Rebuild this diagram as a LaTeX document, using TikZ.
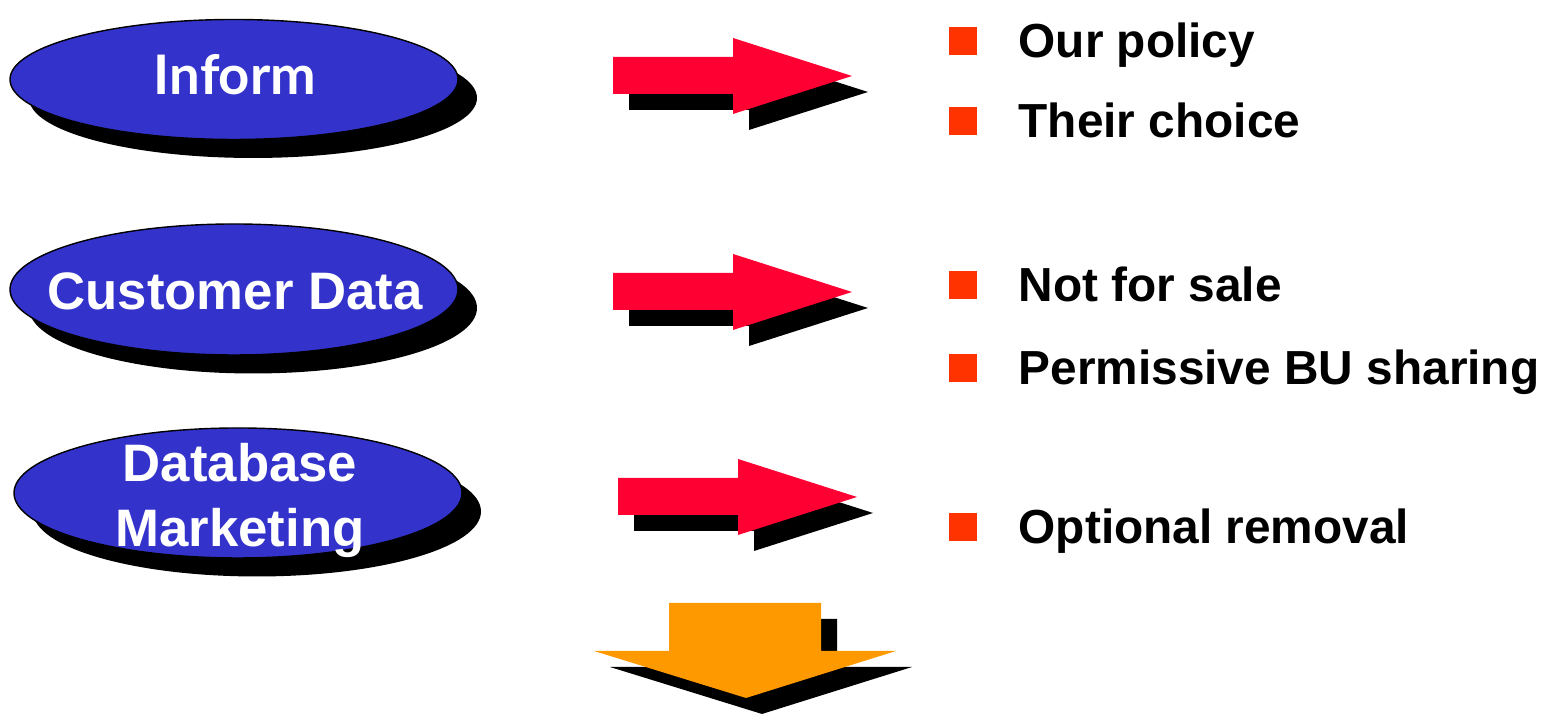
\documentclass[tikz,border=0pt]{standalone}
\usepackage{fontspec}
\setmainfont{Liberation Sans}
\newfontfamily\informfont{Lato}
\usetikzlibrary{shapes.geometric,shadows}
\definecolor{bubbleblue}{HTML}{3333CC}
\definecolor{arrowred}{HTML}{FF0033}
\definecolor{arroworange}{HTML}{FF9900}
\definecolor{bulletred}{HTML}{FF3300}

\begin{document}
\begin{tikzpicture}[
  bubble/.style={ellipse, draw=black, thin, fill=bubbleblue, inner sep=0pt,
                 minimum width=4.48cm,
                 drop shadow={shadow xshift=0.19cm, shadow yshift=-0.185cm,
                              fill=black, opacity=1}},
  bubbletext/.style={anchor=base, text=white, align=center, inner sep=0pt,
                     font=\fontsize{15}{18.5}\selectfont\bfseries},
  bullet/.style={fill=bulletred, minimum size=0.28cm, inner sep=0pt},
  item/.style={anchor=base west, inner sep=0pt,
               font=\fontsize{13.6}{16}\selectfont\bfseries}
]
\useasboundingbox (0,0) rectangle (15.46,7.14);

% draw the blue bubbles
\node[bubble, minimum height=1.2cm]  (inform)   at (2.34, 6.345) {};
\node[bubble, minimum height=1.31cm] (customer) at (2.34, 4.245) {};
\node[bubble, minimum height=1.3cm]  (database) at (2.38, 2.21)  {};

\node[bubbletext, font=\fontsize{15.5}{18}\selectfont\informfont\bfseries]
  (informtext) at (2.35, 6.19) {Inform};
\node[bubbletext] (customertext) at (2.35, 4.04) {Customer Data};
% the base anchor sits on the last line here
\node[bubbletext] (databasetext) at (2.40, 1.67) {Database\\Marketing};

% draw the red arrows
\foreach \dx/\dy in {0/0, 0/-2.16, 0.05/-4.21} {
  \begin{scope}[shift={(\dx, \dy)}]
    \fill[black] (6.29, 6.41) -- (7.49, 6.41) -- (7.49, 6.60) -- (8.68, 6.22) --
                 (7.49, 5.84) -- (7.49, 6.04) -- (6.29, 6.04) -- cycle;
    \fill[arrowred] (6.13, 6.57) -- (7.33, 6.57) -- (7.33, 6.76) -- (8.52, 6.38) --
                    (7.33, 6.00) -- (7.33, 6.20) -- (6.13, 6.20) -- cycle;
  \end{scope}
}

% draw the orange arrow
\fill[black] (6.85, 0.95) -- (8.37, 0.95) -- (8.37, 0.47) -- (9.12, 0.47) --
             (7.62, 0.00) -- (6.10, 0.47) -- (6.85, 0.47) -- cycle;
\fill[arroworange] (6.69, 1.11) -- (8.21, 1.11) -- (8.21, 0.63) -- (8.96, 0.63) --
                   (7.46, 0.16) -- (5.94, 0.63) -- (6.69, 0.63) -- cycle;

% draw the bullet list
\node[bullet] (b1) at (9.63, 6.73) {};
\node[bullet] (b2) at (9.63, 5.93) {};
\node[bullet] (b3) at (9.63, 4.29) {};
\node[bullet] (b4) at (9.63, 3.46) {};
\node[bullet] (b5) at (9.63, 1.87) {};

\node[item] (policy)   at (10.18, 6.56) {Our policy};
\node[item] (choice)   at (10.18, 5.76) {Their choice};
\node[item] (sale)     at (10.18, 4.12) {Not for sale};
\node[item] (sharing)  at (10.18, 3.29) {Permissive BU sharing};
\node[item] (removal)  at (10.18, 1.70) {Optional removal};

\end{tikzpicture}
\end{document}
